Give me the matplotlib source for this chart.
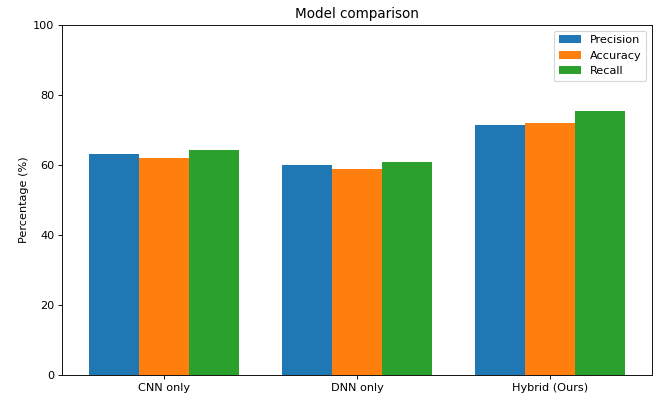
import numpy as np
import matplotlib
matplotlib.use('Agg')
import matplotlib.pyplot as plt

# Data
models = ['CNN only', 'DNN only', 'Hybrid (Ours)']
precision = [63.3, 59.9, 71.4]
accuracy = [62.1, 59.0, 72.0]
recall = [64.3, 60.8, 75.4]

# Plot grouped bars (dpi 81 so text scales like the reference)
fig = plt.figure(figsize=(659 / 81, 401 / 81), dpi=81)
ax = fig.add_axes([62.3 / 659, 25.7 / 401, 589.5 / 659, 350.3 / 401])
x = np.arange(len(models))
w = 0.26
ax.bar(x - w, precision, w, label='Precision')
ax.bar(x, accuracy, w, label='Accuracy')
ax.bar(x + w, recall, w, label='Recall')
ax.set_xticks(x)
ax.set_xticklabels(models)
ax.set_ylim(0, 100)
ax.set_ylabel('Percentage (%)')
ax.set_title('Model comparison')
ax.legend(loc='upper right')
fig.savefig('out.png', dpi=81)
